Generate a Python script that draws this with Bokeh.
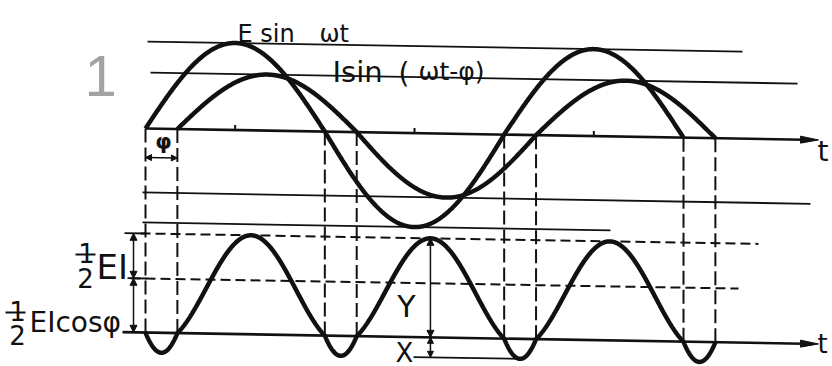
import numpy as np
from bokeh.plotting import figure
from bokeh.models import Range1d, Arrow, NormalHead
from bokeh.core.properties import value
from bokeh.embed import file_html
from bokeh.resources import INLINE

# ---------------- values ----------------
PHI = 32                         # phase lag φ in degrees of ωt
WT_END = 540                     # E sin ωt drawn over 1.5 periods
E_AMP = (87, 94)                 # E sin ωt : positive / negative half-wave amplitude
I_AMP = (56, 64)                 # I sin(ωt-φ) : positive / negative half-wave amplitude
P_AXIS = -204                    # level of the power t-axis below the top t-axis
P_PEAK = 99                      # ½EI(1+cosφ): peak of the power curve
P_MEAN = 54                      # ½EI cosφ : mean-power line
P_DIP = 20                       # X : depth of the negative power lobes
TICKS = [90, 270, 450]           # small ticks on the upper t-axis
DROPS = [0, PHI, 180, 180 + PHI, 360, 360 + PHI, 540, 540 + PHI]  # dashed verticals

# ---------------- page geometry ----------------
W, H = 832, 366
X0, Y0 = 145, 128      # picture pixel of ωt = 0 on the upper axis
SCALE = 538 / 540      # picture px per degree
TILT = 0.017           # slope of the scanned page
INK = "#111111"
FONT = "DejaVu Sans"


def px(xi):
    return (xi - X0) / SCALE


def py(yi):
    return Y0 - yi


def tl(x, y):
    return np.asarray(y, float) - TILT * SCALE * np.asarray(x, float)


p = figure(width=W, height=H, x_range=Range1d(px(0), px(W)),
           y_range=Range1d(py(H), py(0)), output_backend="svg",
           toolbar_location=None, min_border=0)
p.axis.visible = False
p.grid.visible = False
p.outline_line_color = None
p.background_fill_color = "white"
p.border_fill_color = "white"


def hline(x0, x1, level, width=2.0, dash="solid"):
    xs = np.array([x0, x1])
    p.line(xs, tl(xs, [level, level]), line_color=INK, line_width=width, line_dash=dash)


def vline(x, y0, y1, width=2.0, dash="solid"):
    xs = np.array([x, x])
    p.line(xs, tl(xs, [y0, y1]), line_color=INK, line_width=width, line_dash=dash)


def arrow(x0, y0, x1, y1, size=8, width=1.5):
    ys = tl([x0, x1], [y0, y1])
    p.add_layout(Arrow(x_start=x0, y_start=ys[0], x_end=x1, y_end=ys[1],
                       line_color=INK, line_width=width,
                       start=NormalHead(size=size, fill_color=INK, line_color=INK),
                       end=NormalHead(size=size, fill_color=INK, line_color=INK)))


def axis_arrow(x_start, x_tip, level):
    hline(x_start, x_tip - 15 / SCALE, level, width=2.6)
    xs = np.array([x_tip - 18 / SCALE, x_tip, x_tip - 18 / SCALE])
    ys = tl(xs, [level + 3.5, level, level - 3.5])
    p.patch(xs, ys, fill_color=INK, line_color=INK, line_width=1)


def label(txt, xi, yi, size, font=FONT, align="left", baseline="alphabetic",
          color=INK, style="normal"):
    p.text(x=[px(xi)], y=[py(yi)], text=[txt], text_font=value(font),
           text_font_size=value(f"{size}px"), text_align=align,
           text_baseline=baseline, text_color=color, text_font_style=style)


# ---------------- upper panel ----------------
axis_arrow(0, px(818), 0)
for t in TICKS:
    vline(t, 0, 5, width=2)

hline(px(147), px(742), E_AMP[0], width=1.8)
hline(px(150), px(797), I_AMP[0], width=1.8)
hline(px(142), px(810), -I_AMP[1], width=1.8)
hline(px(142), px(610), -E_AMP[1], width=1.8)

xe = np.linspace(0, WT_END, 1081)
se = np.sin(np.radians(xe))
e_val = np.where(se >= 0, E_AMP[0] * se, E_AMP[1] * se)
p.line(xe, tl(xe, e_val), line_color=INK, line_width=4.5)

xi_ = np.linspace(PHI, WT_END + PHI, 1081)
si = np.sin(np.radians(xi_ - PHI))
i_val = np.where(si >= 0, I_AMP[0] * si, I_AMP[1] * si)
p.line(xi_, tl(xi_, i_val), line_color=INK, line_width=4.5)

for d in DROPS:
    vline(d, 0, P_AXIS, width=2, dash="14 5")

# φ marker
arrow(0, py(157), PHI, py(157), size=6, width=1.5)
label("φ", 163, 141, 21, align="center", baseline="middle", style="bold")

# ---------------- lower panel ----------------
axis_arrow(px(122), px(818), P_AXIS)
hline(px(140), px(758), P_AXIS + P_PEAK, width=2, dash="10 5")
hline(px(130), px(738), P_AXIS + P_MEAN, width=2, dash="10 5")
hline(px(124), px(146), P_AXIS + P_PEAK, width=1.8)
hline(px(127), px(146), P_AXIS + P_MEAN, width=1.8)

A = P_PEAK / (1 + np.cos(np.radians(PHI)))
M = A * np.cos(np.radians(PHI))
xp = np.linspace(0, WT_END + PHI, 2400)
pw = M - A * np.cos(np.radians(2 * xp - PHI))
pw = np.where(pw < 0, pw * P_DIP / (A - M), pw)
p.line(xp, tl(xp, P_AXIS + pw), line_color=INK, line_width=4.5)

x_peak = (180 + PHI) / 2 + 180
x_dip = 360 + PHI / 2
hline(px(413), x_dip, P_AXIS - P_DIP, width=1.8)
arrow(x_peak, P_AXIS + P_PEAK, x_peak, P_AXIS, size=7)
arrow(x_peak, P_AXIS, x_peak, P_AXIS - P_DIP, size=6)
arrow(px(133), P_AXIS + P_PEAK, px(133), P_AXIS + P_MEAN, size=7)
arrow(px(133), P_AXIS + P_MEAN, px(133), P_AXIS, size=7)

# ---------------- texts ----------------
label("1", 84, 75, 58, font="Liberation Sans", color="#a3a3a3")
label("E sin", 237, 33, 24)
label("ωt", 319, 33, 24)
label("Isin", 332, 71, 29)
label("(", 398, 73, 28)
label("ωt-φ)", 418, 71, 25)
label("t", 817, 151, 28)
label("t", 822, 343, 26, align="center", baseline="middle")
label("Y", 406, 306, 30, align="center", baseline="middle")
label("X", 404, 352, 26, align="center", baseline="middle")

label("1", 86, 252, 26, align="center")
label("2", 85, 277, 26, align="center")
p.line(np.array([px(75), px(95)]), np.array([py(254), py(254)]), line_color=INK, line_width=2)
label("EI", 96, 266, 34)

label("1", 17, 310, 26, align="center")
label("2", 17, 334, 26, align="center")
p.line(np.array([px(5), px(25)]), np.array([py(312), py(312)]), line_color=INK, line_width=2)
label("EIcosφ", 29, 322, 28)

open("out.html", "w").write(file_html(p, INLINE))
